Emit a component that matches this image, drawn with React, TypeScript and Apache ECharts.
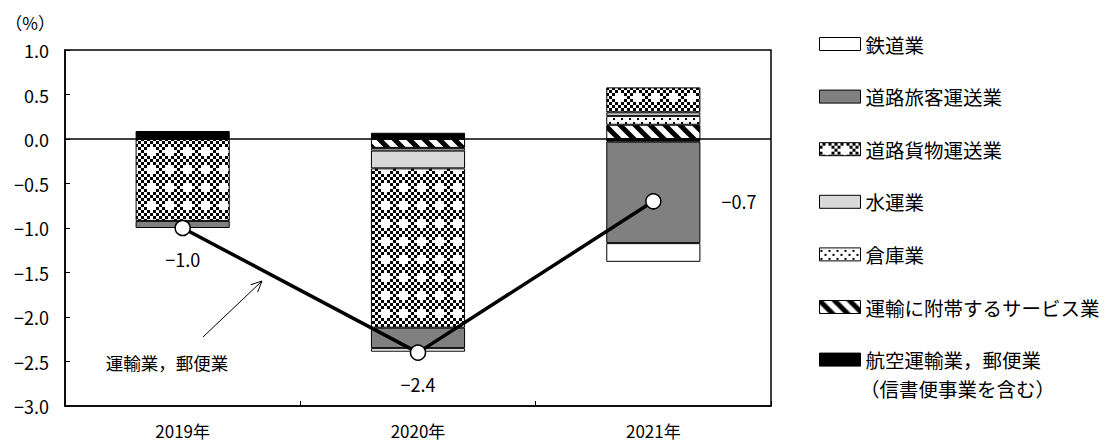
import React, { useEffect, useRef } from 'react';
import * as echarts from 'echarts';

const categories = ['2019年', '2020年', '2021年'];
const yMin = -3;
const yMax = 1;
const yStep = 0.5;

const nameRail = '鉄道業';
const namePassenger = '道路旅客運送業';
const nameFreight = '道路貨物運送業';
const nameWater = '水運業';
const nameWarehouse = '倉庫業';
const nameServices = '運輸に附帯するサービス業';
const nameAir = '航空運輸業，郵便業';
const nameAirNote = '（信書便事業を含む）';
const nameTotal = '運輸業，郵便業';

// stacked contributions (percentage points)
const airPostal = [0.09, 0.07, -0.03];
const transportServices = [null, -0.1, 0.16];
const warehousing = [null, -0.03, 0.1];
const waterTransport = [null, -0.2, 0.04];
const roadFreight = [-0.92, -1.79, 0.28];
const roadPassenger = [-0.08, -0.23, -1.14];
const railway = [null, -0.04, -0.21];
// total (line)
const totalValues = [-1.0, -2.4, -0.7];

const FONT = "'Noto Sans CJK JP', 'Noto Sans', sans-serif";

const fmt = (v: number) => {
  const s = Number(v).toFixed(1);
  return s.replace('-', '−');
};

function makeCanvas(w: number, h: number, draw: (ctx: CanvasRenderingContext2D) => void) {
  const c = document.createElement('canvas');
  c.width = w;
  c.height = h;
  const ctx = c.getContext('2d') as CanvasRenderingContext2D;
  draw(ctx);
  return c;
}

function makePatterns() {
  const s = 3;
  const n = 6;
  const checker = makeCanvas(s * n, s * n, (ctx) => {
    ctx.fillStyle = '#fff';
    ctx.fillRect(0, 0, s * n, s * n);
    ctx.fillStyle = '#000';
    const crosses = [[2, 2]];
    for (let i = 0; i < n; i++) {
      for (let j = 0; j < n; j++) {
        if ((i + j) % 2 === 1) {
          const near = crosses.some(([ci, cj]) => Math.abs(i - ci) + Math.abs(j - cj) === 1);
          if (!near) ctx.fillRect(i * s, j * s, s, s);
        }
      }
    }
  });
  const hatch = makeCanvas(15, 15, (ctx) => {
    ctx.fillStyle = '#fff';
    ctx.fillRect(0, 0, 15, 15);
    ctx.strokeStyle = '#000';
    ctx.lineWidth = 5;
    for (const o of [-15, 0, 15]) {
      ctx.beginPath();
      ctx.moveTo(o - 2, -2);
      ctx.lineTo(o + 17, 17);
      ctx.stroke();
    }
  });
  const dots = makeCanvas(8, 8, (ctx) => {
    ctx.fillStyle = '#fff';
    ctx.fillRect(0, 0, 8, 8);
    ctx.fillStyle = '#000';
    ctx.fillRect(1, 2, 2, 2);
    ctx.fillRect(5, 6, 2, 2);
  });
  const pat = (c: HTMLCanvasElement) => ({
    image: c,
    repeat: 'repeat',
    imageWidth: c.width,
    imageHeight: c.height,
  });
  return { checker: pat(checker), hatch: pat(hatch), dots: pat(dots) };
}

export default function App() {
  const ref = useRef<HTMLDivElement>(null);

  useEffect(() => {
    if (!ref.current) return;
    const chart = echarts.init(ref.current, null, { renderer: 'svg' });
    const p = makePatterns();

    const bar = (name: string, data: (number | null)[], color: any, extra: any = {}) => ({
      name,
      type: 'bar',
      stack: 'total',
      data: data.map((v) => (v === null ? '-' : v)),
      barWidth: '40%',
      itemStyle: { color, borderColor: '#000', borderWidth: 1 },
      emphasis: { disabled: true },
      ...extra,
    });

    const labelCfg = [
      { position: 'bottom', distance: 14 },
      { position: 'bottom', distance: 14 },
      { position: 'right', distance: 60 },
    ];

    const option: any = {
      animation: false,
      backgroundColor: '#fff',
      textStyle: { fontFamily: FONT, color: '#000' },
      grid: {
        left: 65,
        right: 335,
        top: 50,
        bottom: 37,
        show: true,
        borderColor: '#000',
        borderWidth: 1.5,
        containLabel: false,
      },
      legend: {
        orient: 'vertical',
        left: 814,
        top: 29,
        itemWidth: 41,
        itemHeight: 13,
        itemGap: 32.6,
        icon: 'rect',
        selectedMode: false,
        data: [nameRail, namePassenger, nameFreight, nameWater, nameWarehouse, nameServices, nameAir],
        itemStyle: { borderColor: '#000', borderWidth: 1 },
        textStyle: { fontSize: 19.5, color: '#000', fontFamily: FONT, lineHeight: 20 },
      },
      xAxis: {
        type: 'category',
        data: categories,
        boundaryGap: true,
        axisLine: { onZero: false, lineStyle: { color: '#000', width: 1.5 } },
        axisTick: { show: true, inside: true, length: 5, lineStyle: { color: '#000', width: 1 } },
        axisLabel: { fontSize: 17, color: '#000', margin: 16, fontFamily: FONT },
        splitLine: { show: false },
      },
      yAxis: {
        type: 'value',
        min: yMin,
        max: yMax,
        interval: yStep,
        name: '（%）',
        nameLocation: 'end',
        nameGap: 19,
        nameTextStyle: { fontSize: 17, color: '#000', align: 'right', padding: [0, 10, 0, 0], fontFamily: FONT },
        axisLine: { show: true, lineStyle: { color: '#000', width: 1.5 } },
        axisTick: { show: true, inside: true, length: 5, lineStyle: { color: '#000', width: 1 } },
        axisLabel: { fontSize: 18, color: '#000', margin: 16, formatter: (v: number) => fmt(v), fontFamily: FONT },
        splitLine: { show: false },
      },
      series: [
        bar(nameAir, airPostal, '#000', {
          markLine: {
            silent: true,
            symbol: 'none',
            label: { show: false },
            lineStyle: { color: '#000', width: 1.5, type: 'solid' },
            data: [{ yAxis: 0 }],
          },
        }),
        bar(nameServices, transportServices, p.hatch),
        bar(nameWarehouse, warehousing, p.dots),
        bar(nameWater, waterTransport, '#d9d9d9'),
        bar(nameFreight, roadFreight, p.checker),
        bar(namePassenger, roadPassenger, '#808080'),
        bar(nameRail, railway, '#fff'),
        {
          name: nameTotal,
          type: 'line',
          data: totalValues.map((v, i) => ({ value: v, label: labelCfg[i] })),
          symbol: 'circle',
          symbolSize: 15,
          z: 10,
          itemStyle: { color: '#fff', borderColor: '#000', borderWidth: 1.5 },
          lineStyle: { color: '#000', width: 3.5 },
          emphasis: { disabled: true },
          label: {
            show: true,
            fontSize: 18,
            color: '#000',
            fontFamily: FONT,
            formatter: (pp: any) => fmt(pp.value),
          },
        },
      ],
      graphic: [
        {
          type: 'text',
          x: 860,
          y: 388,
          style: {
            text: nameAirNote,
            fontSize: 19.5,
            fill: '#000',
            fontFamily: FONT,
            verticalAlign: 'middle',
          },
        },
        {
          type: 'text',
          x: 167,
          y: 362,
          style: {
            text: nameTotal,
            fontSize: 17.5,
            fill: '#000',
            fontFamily: FONT,
            align: 'center',
            verticalAlign: 'middle',
          },
        },
        {
          type: 'line',
          shape: { x1: 203, y1: 337, x2: 262, y2: 281 },
          style: { stroke: '#000', lineWidth: 1 },
        },
        {
          type: 'polyline',
          shape: { points: [[250.6, 284.8], [262, 281], [257.6, 292.2]] },
          style: { stroke: '#000', lineWidth: 1, fill: null },
        },
      ],
    };

    chart.setOption(option);
    return () => {
      chart.dispose();
    };
  }, []);

  return (
    <div
      ref={ref}
      style={{ position: 'fixed', left: 0, top: 0, width: 1106, height: 443, background: '#fff' }}
    />
  );
}
